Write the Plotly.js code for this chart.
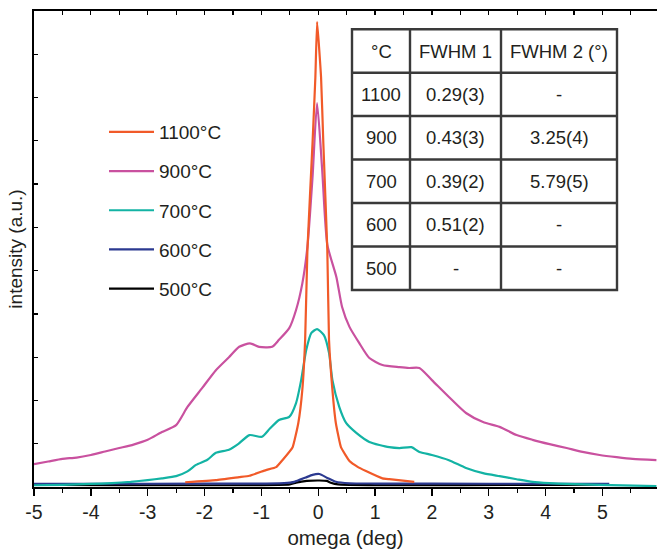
<!DOCTYPE html>
<html><head><meta charset="utf-8">
<script src="https://cdn.plot.ly/plotly-3.0.1.min.js"></script>
<style>html,body{margin:0;padding:0;background:#fff}#chart{width:657px;height:551px}</style>
</head><body><div id="chart"></div>
<script>
// ---- data ----
const x1100 = [-2.34,-1.8,-1.39,-1.21,-0.92,-0.74,-0.63,-0.45,-0.35,-0.28,-0.23,-0.19,-0.1,-0.05,-0.02,0.05,0.09,0.16,0.19,0.25,0.31,0.4,0.55,0.7,0.84,1.13,1.25,1.69];
const y1100 = [1.1,1.6,2.3,2.6,3.9,4.6,6.2,9.2,14.8,22.4,34,54.8,79.5,94.7,107.5,94.7,79.5,54.8,34,22.4,14.8,9.2,6.0,4.6,3.7,2.0,1.8,1.2];

const x900 = [-5.0,-4.75,-4.5,-4.25,-4.0,-3.75,-3.5,-3.25,-3.0,-2.75,-2.5,-2.3,-2.04,-1.8,-1.57,-1.39,-1.2,-1.04,-0.81,-0.69,-0.51,-0.39,-0.28,-0.19,-0.1,-0.02,0.07,0.16,0.32,0.42,0.55,0.72,0.9,1.13,1.43,1.6,1.78,2.0,2.3,2.6,2.9,3.19,3.49,3.77,4.07,4.37,4.65,4.95,5.25,5.53,5.95];
const y900 = [5.3,5.9,6.5,6.8,7.4,8.2,9.0,9.8,10.9,12.7,14.3,18.5,22.9,27,30,32.4,33.2,32.4,32.4,34,36.7,40.9,47,55.5,71.6,88.7,73.3,56,48.5,41.6,37,33.3,29.8,28.2,27.7,27.5,27.5,24.7,20.8,17.1,15,13.9,12,10.9,9.9,9,8.1,7.4,6.9,6.5,6.2];

const x700 = [-5.0,-4.5,-4.0,-3.63,-3.3,-3.0,-2.75,-2.5,-2.3,-2.15,-1.95,-1.8,-1.57,-1.41,-1.21,-0.99,-0.85,-0.69,-0.51,-0.39,-0.3,-0.21,-0.12,-0.02,0.1,0.19,0.25,0.37,0.49,0.67,0.9,1.25,1.43,1.64,1.78,2.0,2.3,2.6,2.9,3.19,3.49,3.77,4.07,4.37,4.95,5.95];
const y700 = [0.4,0.5,0.7,0.9,1.2,1.6,2.0,2.5,3.6,5.1,6.3,7.9,8.6,9.9,12,11.6,13.5,15.5,16.2,19.4,24.7,31.7,35.6,36.5,35.1,31,24.7,18.5,14.8,12.5,10.4,9.2,9.0,9.2,8.1,7.4,6.2,4.4,3.2,2.5,1.8,1.2,0.9,0.7,0.5,0.2];

const x600 = [-5.0,-3.0,-1.0,-0.6,-0.42,-0.22,-0.1,0.02,0.16,0.31,0.55,1.0,3.0,5.12];
const y600 = [0.75,0.75,0.8,0.9,1.2,2.2,2.8,3.0,2.1,1.2,0.85,0.8,0.75,0.75];

const x500 = [-5.0,-0.5,-0.39,-0.2,0.02,0.15,0.22,0.35,5.0];
const y500 = [0.55,0.6,1.0,1.4,1.5,1.4,1.0,0.6,0.55];

const seriesNames = ['1100°C','900°C','700°C','600°C','500°C'];
const xTickVals = [-5,-4,-3,-2,-1,0,1,2,3,4,5];
const xTickText = ['-5','-4','-3','-2','-1','0','1','2','3','4','5'];
const edgeTickVal = 6, edgeTickText = '6';

const tableHeader = ['°C','FWHM 1','FWHM 2 (°)'];
const tableTemps = ['1100','900','700','600','500'];
const tableFwhm1 = ['0.29(3)','0.43(3)','0.39(2)','0.51(2)','-'];
const tableFwhm2 = ['-','3.25(4)','5.79(5)','-','-'];

// ---- layout geometry ----
const W = 657, H = 551, M = {l:34, r:0, t:11, b:64};
const PW = W - M.l - M.r, PH = H - M.t - M.b;
const px = v => (v - M.l) / PW;
const py = v => (H - M.b - v) / PH;
const FONT = 'Liberation Sans, Arial, Helvetica, sans-serif';
const TXT = '#231f20';

const colors = {'1100°C':'#f15a29','900°C':'#c9519f','700°C':'#13b3a4','600°C':'#2b3990','500°C':'#000000'};
const xs = [x1100,x900,x700,x600,x500], ys = [y1100,y900,y700,y600,y500];
const smooth = [0.35,0.6,0.6,0.5,0.5];

const traces = [];
[4,3,2,1,0].forEach(i => {
  traces.push({
    x: xs[i], y: ys[i], type:'scatter', mode:'lines', name: seriesNames[i],
    line:{color: colors[seriesNames[i]], width:2.2, shape:'spline', smoothing:smooth[i]},
    legendgroup: 'g'+i, legendrank: i+1, hoverinfo:'skip'
  });
});
traces.push({x:[], y:[], xaxis:'x2', type:'scatter', mode:'lines', showlegend:false, hoverinfo:'skip'});

// ---- table as shapes + annotations ----
const colEdges = [352, 410, 501, 617];
const rowEdges = [29.3, 72.7, 116, 159.5, 203, 246.5, 290];
const LC = '#3a3a3a';
const shapes = [];
shapes.push({type:'rect', xref:'paper', yref:'paper', x0:px(colEdges[0]), x1:px(colEdges[3]), y0:py(rowEdges[0]), y1:py(rowEdges[6]), line:{color:LC, width:2.4}, fillcolor:'#ffffff', layer:'above'});
for (let c = 1; c < colEdges.length-1; c++) shapes.push({type:'line', xref:'paper', yref:'paper', x0:px(colEdges[c]), x1:px(colEdges[c]), y0:py(rowEdges[0]), y1:py(rowEdges[6]), line:{color:LC, width:2.4}});
for (let r = 1; r < rowEdges.length-1; r++) shapes.push({type:'line', xref:'paper', yref:'paper', x0:px(colEdges[0]), x1:px(colEdges[3]), y0:py(rowEdges[r]), y1:py(rowEdges[r]), line:{color:LC, width:2.4}});

const annotations = [];
const cols = [tableTemps, tableFwhm1, tableFwhm2];
const cellText = (t, c, r) => ({text:t, xref:'paper', yref:'paper', x:px((colEdges[c]+colEdges[c+1])/2), y:py((rowEdges[r]+rowEdges[r+1])/2), xanchor:'center', yanchor:'middle', showarrow:false, font:{family:FONT, size:18.5, color:TXT}});
tableHeader.forEach((t,c) => annotations.push(cellText(t,c,0)));
cols.forEach((col,c) => col.forEach((t,r) => annotations.push(cellText(t,c,r+1))));
annotations.push({text:edgeTickText, xref:'x', yref:'paper', x:edgeTickVal, y:0, yanchor:'top', yshift:-7, xshift:-20, showarrow:false, font:{family:FONT, size:19.5, color:TXT}});

const layout = {
  width:W, height:H, margin:M, paper_bgcolor:'#fff', plot_bgcolor:'#fff',
  font:{family:FONT, color:TXT},
  showlegend:true,
  legend:{x:px(104), y:py(113), xanchor:'left', yanchor:'top', bgcolor:'rgba(0,0,0,0)', font:{family:FONT, size:19, color:TXT}, tracegroupgap:11.5, traceorder:'grouped', itemwidth:45},
  xaxis:{range:[-5,5.96], tickvals:xTickVals, ticktext:xTickText, ticks:'outside', ticklen:7, tickwidth:1.4, tickcolor:'#000',
    minor:{dtick:0.5, tick0:0, ticks:'outside', ticklen:4, tickwidth:1.2, tickcolor:'#000', showgrid:false},
    showline:true, linecolor:'#000', linewidth:1.6, showgrid:false, zeroline:false,
    tickfont:{family:FONT, size:19.5, color:TXT},
    title:{text:'omega (deg)', font:{family:FONT, size:20.5, color:TXT}, standoff:8}},
  xaxis2:{overlaying:'x', matches:'x', side:'top', anchor:'y', range:[-5,5.96], dtick:0.5, tick0:0, ticks:'inside', ticklen:4, tickwidth:1.2, tickcolor:'#000', showticklabels:false, showline:true, linecolor:'#000', linewidth:1.6, showgrid:false, zeroline:false},
  yaxis:{range:[0,110], dtick:10, tick0:0, ticks:'inside', ticklen:4, tickwidth:1.2, tickcolor:'#000', showticklabels:false,
    showline:true, linecolor:'#000', linewidth:1.6, showgrid:false, zeroline:false,
    title:{text:'intensity (a.u.)', font:{family:FONT, size:19, color:TXT}, standoff:5}},
  shapes: shapes, annotations: annotations
};
Plotly.newPlot('chart', traces, layout, {staticPlot:true, displayModeBar:false});
</script></body></html>
